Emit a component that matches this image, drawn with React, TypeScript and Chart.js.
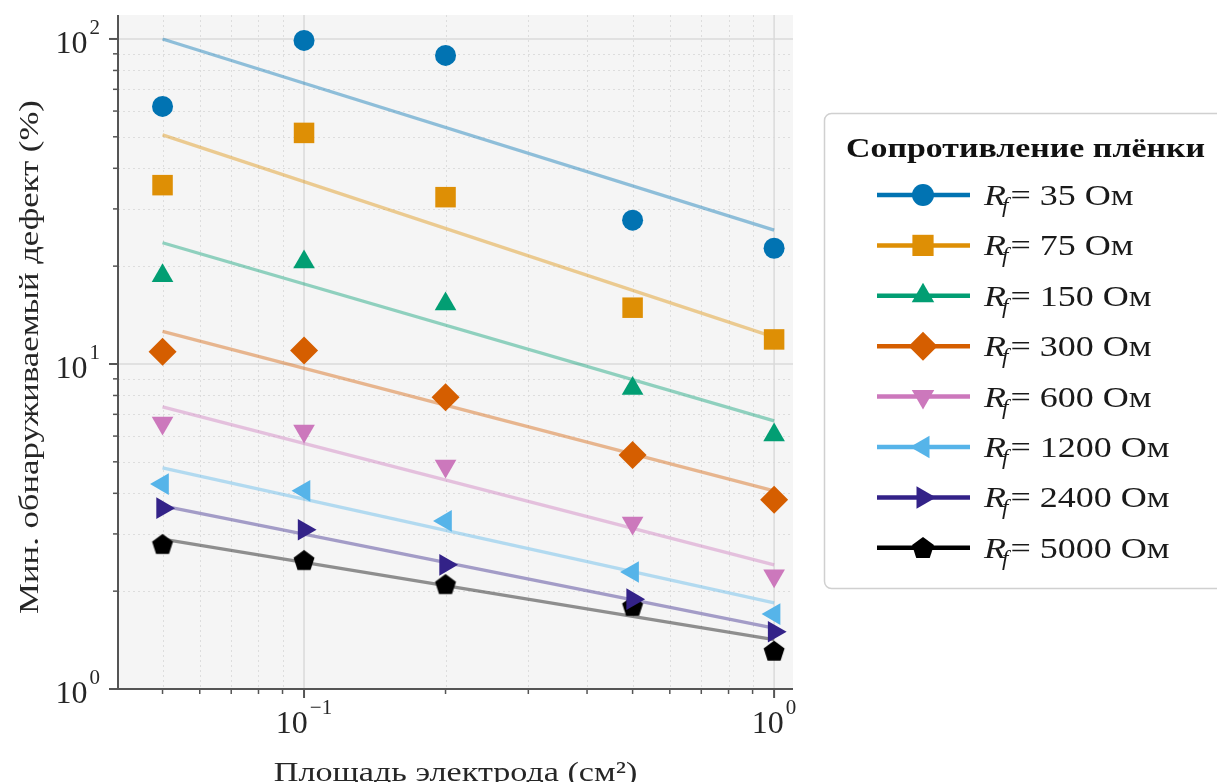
import React, { useEffect, useRef } from 'react';
import { Chart, registerables } from 'chart.js';

Chart.register(...registerables);

// Electrode area, cm²
const areas = [0.05, 0.1, 0.2, 0.5, 1.0];
// Endpoints of the power-law fit lines
const fitAreas = [0.05, 1.0];

// Film resistance, Ohm
const resistances = [35, 75, 150, 300, 600, 1200, 2400, 5000];

// Minimum detectable defect, % (measured)
const defect35 = [62, 99, 89, 27.7, 22.7];
const defect75 = [35.5, 51.4, 32.6, 14.9, 11.9];
const defect150 = [18.7, 20.6, 15.3, 8.4, 6.05];
const defect300 = [10.9, 11.0, 7.9, 5.25, 3.82];
const defect600 = [6.58, 6.22, 4.85, 3.24, 2.23];
const defect1200 = [4.27, 4.07, 3.29, 2.29, 1.7];
const defect2400 = [3.6, 3.09, 2.41, 1.89, 1.5];
const defect5000 = [2.79, 2.49, 2.1, 1.8, 1.31];

// Fit lines, value at 0.05 cm² and 1 cm²
const fit35 = [100, 25.8];
const fit75 = [50.7, 12.1];
const fit150 = [23.6, 6.68];
const fit300 = [12.6, 4.07];
const fit600 = [7.38, 2.41];
const fit1200 = [4.79, 1.84];
const fit2400 = [3.66, 1.54];
const fit5000 = [2.89, 1.42];

const measured = [defect35, defect75, defect150, defect300, defect600, defect1200, defect2400, defect5000];
const fits = [fit35, fit75, fit150, fit300, fit600, fit1200, fit2400, fit5000];

const xTickValues = [0.1, 1];
const xTickExps = ['\u22121', '0'];
const yTickValues = [1, 10, 100];
const yTickExps = ['0', '1', '2'];

const xTitle = 'Площадь электрода (см²)';
const yTitle = 'Мин. обнаруживаемый дефект (%)';
const legendTitle = 'Сопротивление плёнки';

const colors = ['#0173b2', '#de8f05', '#029e73', '#d55e00', '#cc78bc', '#56b4e9', '#332288', '#000000'];
const fitColors = [
  'rgba(1,115,178,0.42)', 'rgba(222,143,5,0.42)', 'rgba(2,158,115,0.42)', 'rgba(213,94,0,0.42)',
  'rgba(204,120,188,0.42)', 'rgba(86,180,233,0.42)', 'rgba(51,34,136,0.42)', 'rgba(0,0,0,0.42)',
];
const markerKinds = ['circle', 'rect', 'triangle', 'rectRot', 'triangle', 'triangle', 'triangle', 'pentagon'];
const markerRotations = [0, 0, 0, 0, 180, 270, 90, 0];
const markerRadii = [10.5, 14.5, 12.5, 14, 12.5, 12.5, 12.5, 11];

const FONT = '"Liberation Serif", "Times New Roman", serif';

function pentagonPath(ctx: CanvasRenderingContext2D, cx: number, cy: number, r: number) {
  ctx.beginPath();
  for (let i = 0; i < 5; i++) {
    const a = -Math.PI / 2 + (i * 2 * Math.PI) / 5;
    const px = cx + r * Math.cos(a);
    const py = cy + r * Math.sin(a);
    if (i === 0) ctx.moveTo(px, py);
    else ctx.lineTo(px, py);
  }
  ctx.closePath();
}

function makePentagon(r: number, color: string): HTMLCanvasElement {
  const c = document.createElement('canvas');
  const s = Math.ceil(r * 2 + 2);
  c.width = s;
  c.height = s;
  const g = c.getContext('2d')!;
  g.fillStyle = color;
  pentagonPath(g, s / 2, s / 2 + 0.8, r);
  g.fill();
  return c;
}

function drawMarker(ctx: CanvasRenderingContext2D, kind: string, x: number, y: number, r: number, rot: number, color: string) {
  ctx.save();
  ctx.fillStyle = color;
  ctx.translate(x, y);
  ctx.rotate((rot * Math.PI) / 180);
  ctx.beginPath();
  if (kind === 'circle') {
    ctx.arc(0, 0, r, 0, Math.PI * 2);
  } else if (kind === 'rect') {
    const s = Math.SQRT1_2 * r;
    ctx.rect(-s, -s, 2 * s, 2 * s);
  } else if (kind === 'rectRot') {
    ctx.moveTo(0, -r);
    ctx.lineTo(r, 0);
    ctx.lineTo(0, r);
    ctx.lineTo(-r, 0);
    ctx.closePath();
  } else if (kind === 'triangle') {
    for (let i = 0; i < 3; i++) {
      const a = (i * 2 * Math.PI) / 3;
      const px = Math.sin(a) * r;
      const py = -Math.cos(a) * r;
      if (i === 0) ctx.moveTo(px, py);
      else ctx.lineTo(px, py);
    }
    ctx.closePath();
  } else if (kind === 'pentagon') {
    pentagonPath(ctx, 0, 0.8, r);
  }
  ctx.fill();
  ctx.restore();
}

function minorValues(min: number, max: number): number[] {
  const out: number[] = [];
  for (let e = Math.floor(Math.log10(min)); e <= Math.ceil(Math.log10(max)); e++) {
    for (let m = 2; m <= 9; m++) {
      const v = m * Math.pow(10, e);
      if (v >= min && v <= max) out.push(v);
    }
  }
  return out;
}

// Text drawn with a horizontal stretch factor
function wideText(ctx: CanvasRenderingContext2D, text: string, x: number, y: number, sx: number) {
  ctx.save();
  ctx.translate(x, y);
  ctx.scale(sx, 1);
  ctx.fillText(text, 0, 0);
  ctx.restore();
}

function drawPower(ctx: CanvasRenderingContext2D, exp: string, x: number, baseline: number, align: 'right' | 'center') {
  ctx.save();
  ctx.fillStyle = '#262626';
  ctx.textBaseline = 'alphabetic';
  ctx.textAlign = 'left';
  const bigFont = `32px ${FONT}`;
  const smallFont = `21px ${FONT}`;
  ctx.font = bigFont;
  const bw = ctx.measureText('10').width;
  ctx.font = smallFont;
  const sw = ctx.measureText(exp).width;
  const gap = 2;
  const total = bw + gap + sw;
  const left = align === 'right' ? x - total : x - total / 2;
  ctx.font = bigFont;
  ctx.fillText('10', left, baseline);
  ctx.font = smallFont;
  ctx.fillText(exp, left + bw + gap, baseline - 19);
  ctx.restore();
}

const decorations = {
  id: 'decorations',
  beforeDatasetsDraw(chart: any) {
    const { ctx, chartArea: a } = chart;
    const xs = chart.scales.x;
    const ys = chart.scales.y;
    ctx.save();
    ctx.fillStyle = '#f5f5f5';
    ctx.fillRect(a.left, a.top, a.right - a.left, a.bottom - a.top);

    // minor grid
    ctx.strokeStyle = '#dddddd';
    ctx.lineWidth = 1;
    ctx.setLineDash([2, 3]);
    for (const v of minorValues(xs.min, xs.max)) {
      const px = Math.round(xs.getPixelForValue(v)) + 0.5;
      ctx.beginPath();
      ctx.moveTo(px, a.top);
      ctx.lineTo(px, a.bottom);
      ctx.stroke();
    }
    for (const v of minorValues(ys.min, ys.max)) {
      const py = Math.round(ys.getPixelForValue(v)) + 0.5;
      ctx.beginPath();
      ctx.moveTo(a.left, py);
      ctx.lineTo(a.right, py);
      ctx.stroke();
    }

    // major grid
    ctx.setLineDash([]);
    ctx.strokeStyle = '#dadada';
    ctx.lineWidth = 1.5;
    for (const v of xTickValues) {
      const px = xs.getPixelForValue(v);
      ctx.beginPath();
      ctx.moveTo(px, a.top);
      ctx.lineTo(px, a.bottom);
      ctx.stroke();
    }
    for (const v of yTickValues) {
      const py = ys.getPixelForValue(v);
      ctx.beginPath();
      ctx.moveTo(a.left, py);
      ctx.lineTo(a.right, py);
      ctx.stroke();
    }
    ctx.restore();
  },
  afterDraw(chart: any) {
    const { ctx, chartArea: a } = chart;
    const xs = chart.scales.x;
    const ys = chart.scales.y;
    ctx.save();

    // spines
    ctx.strokeStyle = '#555555';
    ctx.lineWidth = 2;
    ctx.beginPath();
    ctx.moveTo(a.left, a.top);
    ctx.lineTo(a.left, a.bottom);
    ctx.lineTo(a.right, a.bottom);
    ctx.stroke();

    // tick marks
    ctx.lineWidth = 1.5;
    for (const v of minorValues(ys.min, ys.max)) {
      const py = ys.getPixelForValue(v);
      ctx.beginPath();
      ctx.moveTo(a.left - 5, py);
      ctx.lineTo(a.left, py);
      ctx.stroke();
    }
    for (const v of minorValues(xs.min, xs.max)) {
      const px = xs.getPixelForValue(v);
      ctx.beginPath();
      ctx.moveTo(px, a.bottom);
      ctx.lineTo(px, a.bottom + 5);
      ctx.stroke();
    }
    ctx.lineWidth = 2;
    yTickValues.forEach((v) => {
      const py = ys.getPixelForValue(v);
      ctx.beginPath();
      ctx.moveTo(a.left - 9, py);
      ctx.lineTo(a.left, py);
      ctx.stroke();
    });
    xTickValues.forEach((v) => {
      const px = xs.getPixelForValue(v);
      ctx.beginPath();
      ctx.moveTo(px, a.bottom);
      ctx.lineTo(px, a.bottom + 9);
      ctx.stroke();
    });

    // tick labels
    yTickValues.forEach((v, i) => {
      drawPower(ctx, yTickExps[i], a.left - 18, ys.getPixelForValue(v) + 14, 'right');
    });
    xTickValues.forEach((v, i) => {
      drawPower(ctx, xTickExps[i], xs.getPixelForValue(v), a.bottom + 44, 'center');
    });

    // axis titles
    ctx.fillStyle = '#262626';
    ctx.font = `28px ${FONT}`;
    ctx.textAlign = 'center';
    ctx.textBaseline = 'alphabetic';
    wideText(ctx, xTitle, (a.left + a.right) / 2, 781, 1.22);
    ctx.save();
    ctx.translate(38, 357);
    ctx.rotate(-Math.PI / 2);
    wideText(ctx, yTitle, 0, 0, 1.24);
    ctx.restore();

    // legend
    const bx = 824.5;
    const by = 113.5;
    const bw = 420;
    const bh = 475;
    const rad = 7;
    ctx.beginPath();
    ctx.moveTo(bx + rad, by);
    ctx.lineTo(bx + bw - rad, by);
    ctx.arcTo(bx + bw, by, bx + bw, by + rad, rad);
    ctx.lineTo(bx + bw, by + bh - rad);
    ctx.arcTo(bx + bw, by + bh, bx + bw - rad, by + bh, rad);
    ctx.lineTo(bx + rad, by + bh);
    ctx.arcTo(bx, by + bh, bx, by + bh - rad, rad);
    ctx.lineTo(bx, by + rad);
    ctx.arcTo(bx, by, bx + rad, by, rad);
    ctx.closePath();
    ctx.fillStyle = 'rgba(255,255,255,0.9)';
    ctx.fill();
    ctx.strokeStyle = '#d0d0d0';
    ctx.lineWidth = 1.5;
    ctx.stroke();

    ctx.fillStyle = '#111111';
    ctx.textAlign = 'left';
    ctx.font = `bold 28px ${FONT}`;
    const titleW = ctx.measureText(legendTitle).width;
    wideText(ctx, legendTitle, 846, 157, 359 / titleW);

    const sx = 1.2;
    resistances.forEach((r, i) => {
      const cy = 195 + i * 50.4;
      ctx.strokeStyle = colors[i];
      ctx.lineWidth = 4.5;
      ctx.beginPath();
      ctx.moveTo(877, cy);
      ctx.lineTo(970, cy);
      ctx.stroke();
      drawMarker(ctx, markerKinds[i], 923, cy, markerRadii[i] + 0.5, markerRotations[i], colors[i]);

      const base = cy + 10;
      const tx = 984;
      ctx.fillStyle = '#1a1a1a';
      ctx.font = `italic 30px ${FONT}`;
      wideText(ctx, 'R', tx, base, sx);
      const rw = ctx.measureText('R').width * sx;
      ctx.font = `italic 21px ${FONT}`;
      wideText(ctx, 'f', tx + rw - 4, base + 7, 1.1);
      const fw = ctx.measureText('f').width * 1.1;
      ctx.font = `30px ${FONT}`;
      wideText(ctx, `= ${r} Ом`, tx + rw + fw - 2, base, sx);
    });

    ctx.restore();
  },
};

export default function App() {
  const canvasRef = useRef<HTMLCanvasElement | null>(null);

  useEffect(() => {
    const canvas = canvasRef.current;
    if (!canvas) return;
    const pentagon = makePentagon(11, colors[7]);

    const markerSets = resistances.map((r, i) => ({
      label: `R_f= ${r} Ом`,
      data: areas.map((x, j) => ({ x, y: measured[i][j] })),
      showLine: false,
      pointStyle: markerKinds[i] === 'pentagon' ? pentagon : markerKinds[i],
      pointRotation: markerRotations[i],
      pointRadius: markerRadii[i],
      pointBackgroundColor: colors[i],
      pointBorderWidth: 0,
      pointBorderColor: colors[i],
      order: 0,
    }));
    const fitSets = resistances.map((r, i) => ({
      label: `fit ${r}`,
      data: fitAreas.map((x, j) => ({ x, y: fits[i][j] })),
      showLine: true,
      borderColor: fitColors[i],
      borderWidth: 3.3,
      pointRadius: 0,
      order: 1,
    }));

    const chart = new Chart(canvas, {
      type: 'scatter',
      data: { datasets: [...markerSets, ...fitSets] as any },
      options: {
        responsive: false,
        animation: false,
        events: [],
        layout: { padding: { left: 118, right: 424, top: 15, bottom: 93 } },
        scales: {
          x: {
            type: 'logarithmic',
            min: 0.0402,
            max: 1.097,
            ticks: { display: false },
            grid: { display: false, drawTicks: false },
            border: { display: false },
          },
          y: {
            type: 'logarithmic',
            min: 1,
            max: 118.5,
            ticks: { display: false },
            grid: { display: false, drawTicks: false },
            border: { display: false },
          },
        },
        plugins: { legend: { display: false }, tooltip: { enabled: false } },
      },
      plugins: [decorations],
    });
    return () => chart.destroy();
  }, []);

  return (
    <div style={{ position: 'fixed', left: 0, top: 0, width: 1217, height: 782, background: '#ffffff' }}>
      <canvas ref={canvasRef} width={1217} height={782} style={{ display: 'block' }} />
    </div>
  );
}
